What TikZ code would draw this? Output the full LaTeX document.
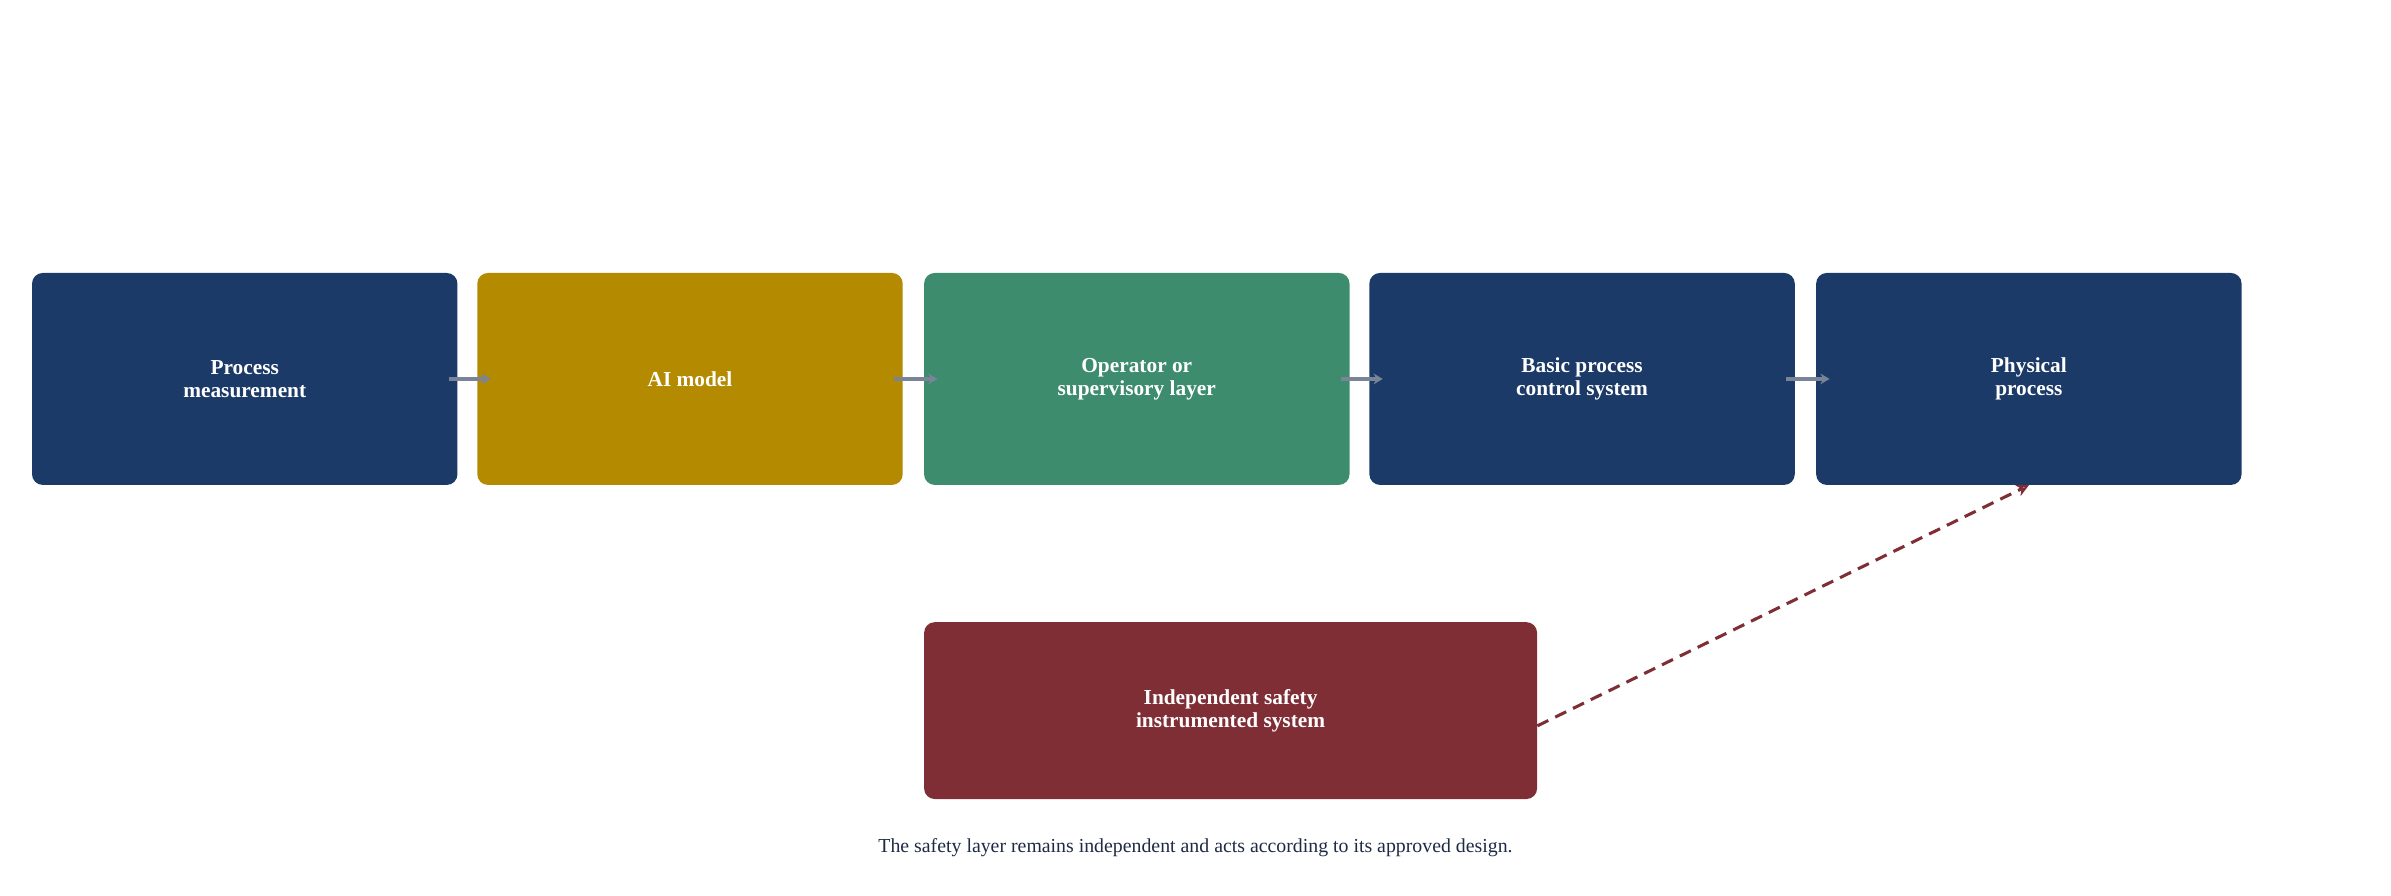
\documentclass[tikz,border=0pt]{standalone}
\usepackage{fontspec}
\setmainfont{Liberation Serif}
\usetikzlibrary{arrows.meta}
\definecolor{navy}{HTML}{1B3A68}
\definecolor{gold}{HTML}{B38A00}
\definecolor{green}{HTML}{3D8C6E}
\definecolor{sred}{HTML}{7F2E35}
\definecolor{agray}{HTML}{7A8499}
\definecolor{captc}{HTML}{1E2A44}
\begin{document}
\begin{tikzpicture}[x=1pt,y=-1pt,
  box/.style={draw=none,rounded corners=7pt,inner sep=0pt,text=white,align=center,
    font=\fontsize{14}{15}\selectfont\bfseries},
  flow/.style={-{Stealth[length=6pt,width=7pt]},agray,line width=2.2pt},
  safe/.style={-{Stealth[length=8pt,width=8pt,open]},sred,line width=2pt,dash pattern=on 8pt off 5pt}]
\useasboundingbox (0,0) rectangle (1568,587);
\node[box,fill=navy,minimum width=279pt,minimum height=139pt] (a) at (160.5,248.5) {Process\\measurement};
\node[box,fill=gold,minimum width=279pt,minimum height=139pt] (b) at (452.5,248.5) {AI model};
\node[box,fill=green,minimum width=279pt,minimum height=139pt] (c) at (745.5,248.5) {Operator or\\supervisory layer};
\node[box,fill=navy,minimum width=279pt,minimum height=139pt] (d) at (1037.5,248.5) {Basic process\\control system};
\node[box,fill=navy,minimum width=279pt,minimum height=139pt] (e) at (1330.5,248.5) {Physical\\process};
\node[box,fill=sred,minimum width=402pt,minimum height=116pt] (s) at (807,466) {Independent safety\\instrumented system};
\draw[flow] ([xshift=-6pt]a.east) -- ([xshift=9pt]b.west);
\draw[flow] ([xshift=-6pt]b.east) -- ([xshift=9pt]c.west);
\draw[flow] ([xshift=-6pt]c.east) -- ([xshift=9pt]d.west);
\draw[flow] ([xshift=-6pt]d.east) -- ([xshift=9pt]e.west);
\draw[safe] ([yshift=-10pt]s.east) -- (e.south);
\node[text=captc,font=\fontsize{13}{15}\selectfont] (cap) at (784,556) {The safety layer remains independent and acts according to its approved design.};
\end{tikzpicture}
\end{document}
